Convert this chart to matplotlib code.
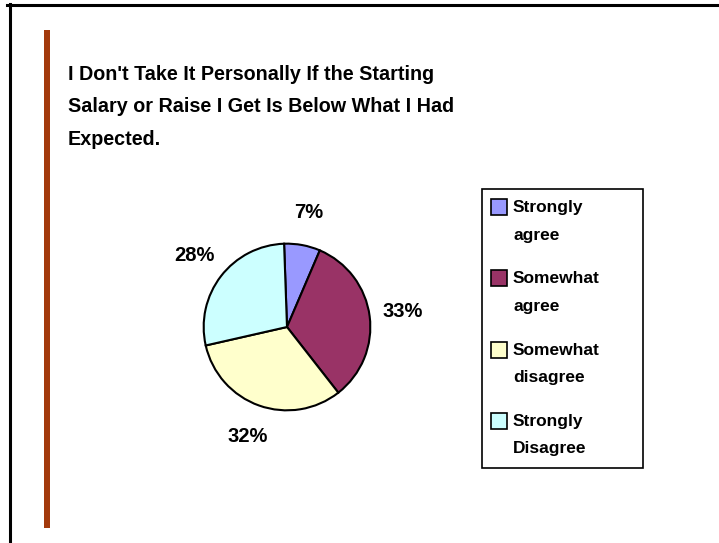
import matplotlib.pyplot as plt
from matplotlib.patches import Rectangle
from matplotlib.lines import Line2D

categories = ["Strongly\nagree", "Somewhat\nagree", "Somewhat\ndisagree", "Strongly\nDisagree"]
shares = [7, 33, 32, 28]
colors = ["#9999FF", "#993366", "#FFFFCC", "#CCFFFF"]
title = "I Don't Take It Personally If the Starting\nSalary or Raise I Get Is Below What I Had\nExpected."

W, H = 719, 543
fig = plt.figure(figsize=(W / 100, H / 100), dpi=100)
plt.rcParams['font.family'] = ['Liberation Sans', 'DejaVu Sans']


def fx(px):
    return px / W


def fy(py):
    return 1 - py / H


# slide frame and accent bar
fig.add_artist(Line2D([fx(9.5), fx(9.5)], [fy(4), 0], color="black", lw=2.2))
fig.add_artist(Line2D([fx(7), 1], [fy(5), fy(5)], color="black", lw=2.2))
fig.add_artist(Rectangle((fx(44), fy(528)), fx(6), (528 - 30) / H,
                         transform=fig.transFigure, color="#A33A0C", lw=0))

fig.text(fx(68), fy(65), title, fontsize=14.2, fontweight="bold",
         va="top", ha="left", linespacing=1.9)

# pie
cx, cy, r = 287, 327, 85
ax = fig.add_axes([fx(cx - r), fy(cy + r), 2 * r / W, 2 * r / H])
wedges, texts, autotexts = ax.pie(
    shares, colors=colors, startangle=92, counterclock=False,
    autopct=lambda p: f"{p:.0f}%", pctdistance=1.4,
    wedgeprops=dict(edgecolor="black", linewidth=1.5),
    textprops=dict(fontsize=14.5, fontweight="bold"))
ax.set_xlim(-1.02, 1.02)
ax.set_ylim(-1.02, 1.02)
ax.set_aspect("equal")

# legend
lx0, ly0, lx1, ly1 = 482, 189, 643, 468
fig.add_artist(Rectangle((fx(lx0), fy(ly1)), fx(lx1 - lx0), (ly1 - ly0) / H,
                         transform=fig.transFigure, facecolor="white",
                         edgecolor="black", lw=1.2))
for i, (lab, col) in enumerate(zip(categories, colors)):
    ty = 207 + 71.3 * i
    fig.add_artist(Rectangle((fx(491), fy(ty + 8)), fx(16), 16 / H,
                             transform=fig.transFigure, facecolor=col,
                             edgecolor="black", lw=1.2))
    fig.text(fx(513), fy(ty - 7), lab, fontsize=12.5, fontweight="bold",
             va="top", ha="left", linespacing=2.05)

fig.savefig("out.png", dpi=100)
